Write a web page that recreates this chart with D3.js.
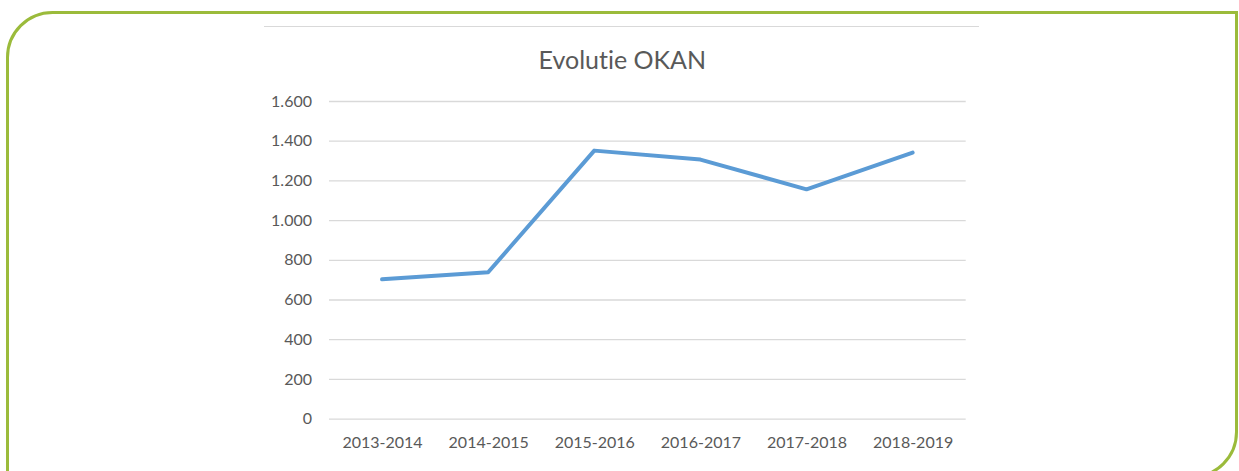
<!DOCTYPE html>
<html>
<head>
<meta charset="utf-8">
<script src="https://cdn.jsdelivr.net/npm/d3@7"></script>
<style>
  html, body { margin: 0; padding: 0; background: #fff; }
  svg { display: block; }
  text { font-family: Lato, "Open Sans", sans-serif; fill: #595959; font-variant-ligatures: none; font-feature-settings: "liga" 0, "clig" 0; }
</style>
</head>
<body>
<svg id="chart" width="1239" height="471"></svg>
<script>
const title = "Evolutie OKAN";
const categories = ["2013-2014", "2014-2015", "2015-2016", "2016-2017", "2017-2018", "2018-2019"];
const values = [702, 737, 1350, 1305, 1155, 1340];
const yTicks = [0, 200, 400, 600, 800, 1000, 1200, 1400, 1600];

const svg = d3.select("#chart");

// decorative frame (rounded top-left and bottom-right corners)
const r = 45, L = 7.5, T = 12.5, R = 1236.5, B = 477;
svg.append("path")
  .attr("d", `M${L},${B} L${L},${T + r} A${r},${r} 0 0 1 ${L + r},${T} L${R},${T} L${R},${B - r} A${r},${r} 0 0 1 ${R - r},${B} Z`)
  .attr("fill", "none")
  .attr("stroke", "#9bbb3b")
  .attr("stroke-width", 3);

// chart area top border
svg.append("line")
  .attr("x1", 264).attr("x2", 979)
  .attr("y1", 26.5).attr("y2", 26.5)
  .attr("stroke", "#d9d9d9").attr("stroke-width", 1);

const plot = { left: 329, right: 965.7, top: 101, bottom: 418.6 };

const x = d3.scalePoint().domain(categories).range([plot.left, plot.right]).padding(0.5);
const y = d3.scaleLinear().domain([0, 1600]).range([plot.bottom, plot.top]);

const fmt = v => d3.format(",")(v).replace(/,/g, ".");

// gridlines + y labels
const yAxis = d3.axisLeft(y).tickValues(yTicks).tickSize(-(plot.right - plot.left)).tickPadding(17).tickFormat(fmt);
const gy = svg.append("g").attr("transform", `translate(${plot.left},0)`).call(yAxis);
gy.select(".domain").remove();
gy.selectAll(".tick line").attr("stroke", "#d9d9d9").attr("stroke-width", 1.3);
gy.selectAll(".tick text").attr("font-size", 16).attr("fill", "#595959")
  .attr("font-family", "Lato, 'Open Sans', sans-serif");

// x labels
const xAxis = d3.axisBottom(x).tickSize(0).tickPadding(18);
const gx = svg.append("g").attr("transform", `translate(0,${plot.bottom})`).call(xAxis);
gx.select(".domain").remove();
gx.selectAll(".tick text").attr("font-size", 16).attr("fill", "#595959")
  .attr("font-family", "Lato, 'Open Sans', sans-serif");

// line
const line = d3.line().x((d, i) => x(categories[i])).y(d => y(d));
svg.append("path")
  .datum(values)
  .attr("d", line)
  .attr("fill", "none")
  .attr("stroke", "#5b9bd5")
  .attr("stroke-width", 4)
  .attr("stroke-linejoin", "round")
  .attr("stroke-linecap", "round");

// title
svg.append("text")
  .attr("x", (plot.left + plot.right) / 2 - 25)
  .attr("y", 69.3)
  .attr("text-anchor", "middle")
  .attr("font-size", 25)
  .text(title);
</script>
</body>
</html>
